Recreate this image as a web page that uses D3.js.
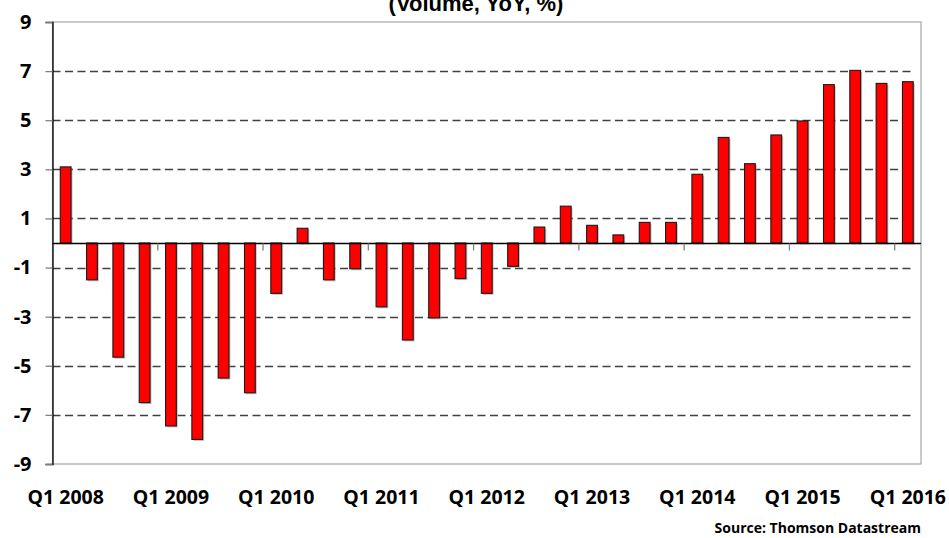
<!DOCTYPE html>
<html>
<head>
<meta charset="utf-8">
<script src="https://cdn.jsdelivr.net/npm/d3@7"></script>
<style>
  body { margin: 0; background: #fff; }
  svg { display: block; }
  .lbl { font-family: "Open Sans", Lato, sans-serif; font-weight: bold; fill: #000; }
</style>
</head>
<body>
<div class="chart"></div>
<script>
// quarters, Q1 2008 .. Q1 2016
var quarters = [];
for (var yr = 2008; yr <= 2016; yr++) {
  for (var q = 1; q <= 4; q++) {
    if (yr == 2016 && q > 1) break;
    quarters.push("Q" + q + " " + yr);
  }
}

// volume, YoY %
var values = [
  3.1, -1.5, -4.65, -6.5,
  -7.45, -8.0, -5.5, -6.1,
  -2.05, 0.6, -1.5, -1.05,
  -2.6, -3.95, -3.05, -1.45,
  -2.05, -0.95, 0.65, 1.5,
  0.72, 0.33, 0.84, 0.84,
  2.8, 4.3, 3.23, 4.4,
  4.97, 6.45, 7.03, 6.5,
  6.57
];

var yTicks = [-9, -7, -5, -3, -1, 1, 3, 5, 7, 9];
var xLabels = ["Q1 2008", "Q1 2009", "Q1 2010", "Q1 2011", "Q1 2012", "Q1 2013", "Q1 2014", "Q1 2015", "Q1 2016"];

var svgWidth = 949;
var svgHeight = 538;
var margin = { top: 22, right: 28, bottom: 74, left: 52.5 };
var width = svgWidth - margin.left - margin.right;
var height = svgHeight - margin.top - margin.bottom;

var svg = d3.select(".chart")
  .append("svg")
  .attr("width", svgWidth)
  .attr("height", svgHeight);

var chart = svg.append("g")
  .attr("transform", `translate(${margin.left},${margin.top})`);

var x = d3.scaleBand()
  .domain(quarters)
  .range([0, width])
  .paddingInner(0.59)
  .paddingOuter(0.295);

var y = d3.scaleLinear()
  .domain([-9, 9])
  .range([height, 0]);

// plot border
chart.append("rect")
  .attr("x", 0).attr("y", 0)
  .attr("width", width).attr("height", height)
  .attr("fill", "none")
  .attr("stroke", "#a6a6a6")
  .attr("stroke-width", 1.2);

// dashed gridlines
chart.selectAll(".grid")
  .data(yTicks.filter(function(d) { return Math.abs(d) < 9; }))
  .enter().append("line")
  .attr("class", "grid")
  .attr("x1", 0).attr("x2", width - 8)
  .attr("y1", function(d) { return Math.round(y(d)) + 0.5; })
  .attr("y2", function(d) { return Math.round(y(d)) + 0.5; })
  .attr("stroke", "#404040")
  .attr("stroke-width", 1.6)
  .attr("stroke-dasharray", "8,4.5");

// y axis (plain hyphen for negatives)
var yAxis = d3.axisLeft(y)
  .tickValues(yTicks)
  .tickSize(7)
  .tickPadding(14)
  .tickFormat(function(d) { return String(d); });

var yg = chart.append("g").call(yAxis);
yg.select(".domain").attr("stroke", "#000").attr("stroke-width", 1.3);
yg.selectAll(".tick line").attr("stroke", "#808080").attr("stroke-width", 1.3);
yg.selectAll(".tick text")
  .attr("class", "lbl")
  .style("font-size", "20px");

// bar shadows
chart.selectAll(".shadow")
  .data(values)
  .enter().append("rect")
  .attr("x", function(d, i) { return x(quarters[i]) + 1.5; })
  .attr("y", function(d) { return y(Math.max(0, d)) + 1.5; })
  .attr("width", x.bandwidth())
  .attr("height", function(d) { return Math.abs(y(d) - y(0)); })
  .attr("fill", "#9a9a9a")
  .attr("opacity", 0.6);

// bars
chart.selectAll(".bar")
  .data(values)
  .enter().append("rect")
  .attr("class", "bar")
  .attr("x", function(d, i) { return x(quarters[i]); })
  .attr("y", function(d) { return y(Math.max(0, d)); })
  .attr("width", x.bandwidth())
  .attr("height", function(d) { return Math.abs(y(d) - y(0)); })
  .attr("fill", "#ff0000")
  .attr("stroke", "#1a1a1a")
  .attr("stroke-width", 1.1);

// zero line with year ticks
var zero = Math.round(y(0)) + 0.5;
chart.append("line")
  .attr("x1", 0).attr("x2", width)
  .attr("y1", zero).attr("y2", zero)
  .attr("stroke", "#000")
  .attr("stroke-width", 1.3);

chart.selectAll(".ytick")
  .data(quarters.filter(function(d, i) { return i > 0 && d.indexOf("Q1") == 0; }))
  .enter().append("line")
  .attr("x1", function(d) { return x(d) - x.step() * x.paddingInner() / 2; })
  .attr("x2", function(d) { return x(d) - x.step() * x.paddingInner() / 2; })
  .attr("y1", zero).attr("y2", zero + 7)
  .attr("stroke", "#808080")
  .attr("stroke-width", 1.3);

// x labels
chart.selectAll(".xl")
  .data(xLabels)
  .enter().append("text")
  .attr("class", "lbl")
  .attr("x", function(d) { return x(d) + x.bandwidth() / 2; })
  .attr("y", height + 40)
  .attr("text-anchor", "middle")
  .style("font-size", "19.5px")
  .text(function(d) { return d; });

// title (second line, top cut off)
svg.append("text")
  .attr("x", 476)
  .attr("y", 11)
  .attr("text-anchor", "middle")
  .style("font-family", "'Liberation Sans', Arial, sans-serif")
  .style("font-weight", "bold")
  .style("font-size", "22px")
  .text("(Volume, YoY, %)");

svg.append("text")
  .attr("class", "lbl")
  .attr("x", 921)
  .attr("y", 533)
  .attr("text-anchor", "end")
  .style("font-size", "14px")
  .text("Source: Thomson Datastream");
</script>
</body>
</html>
